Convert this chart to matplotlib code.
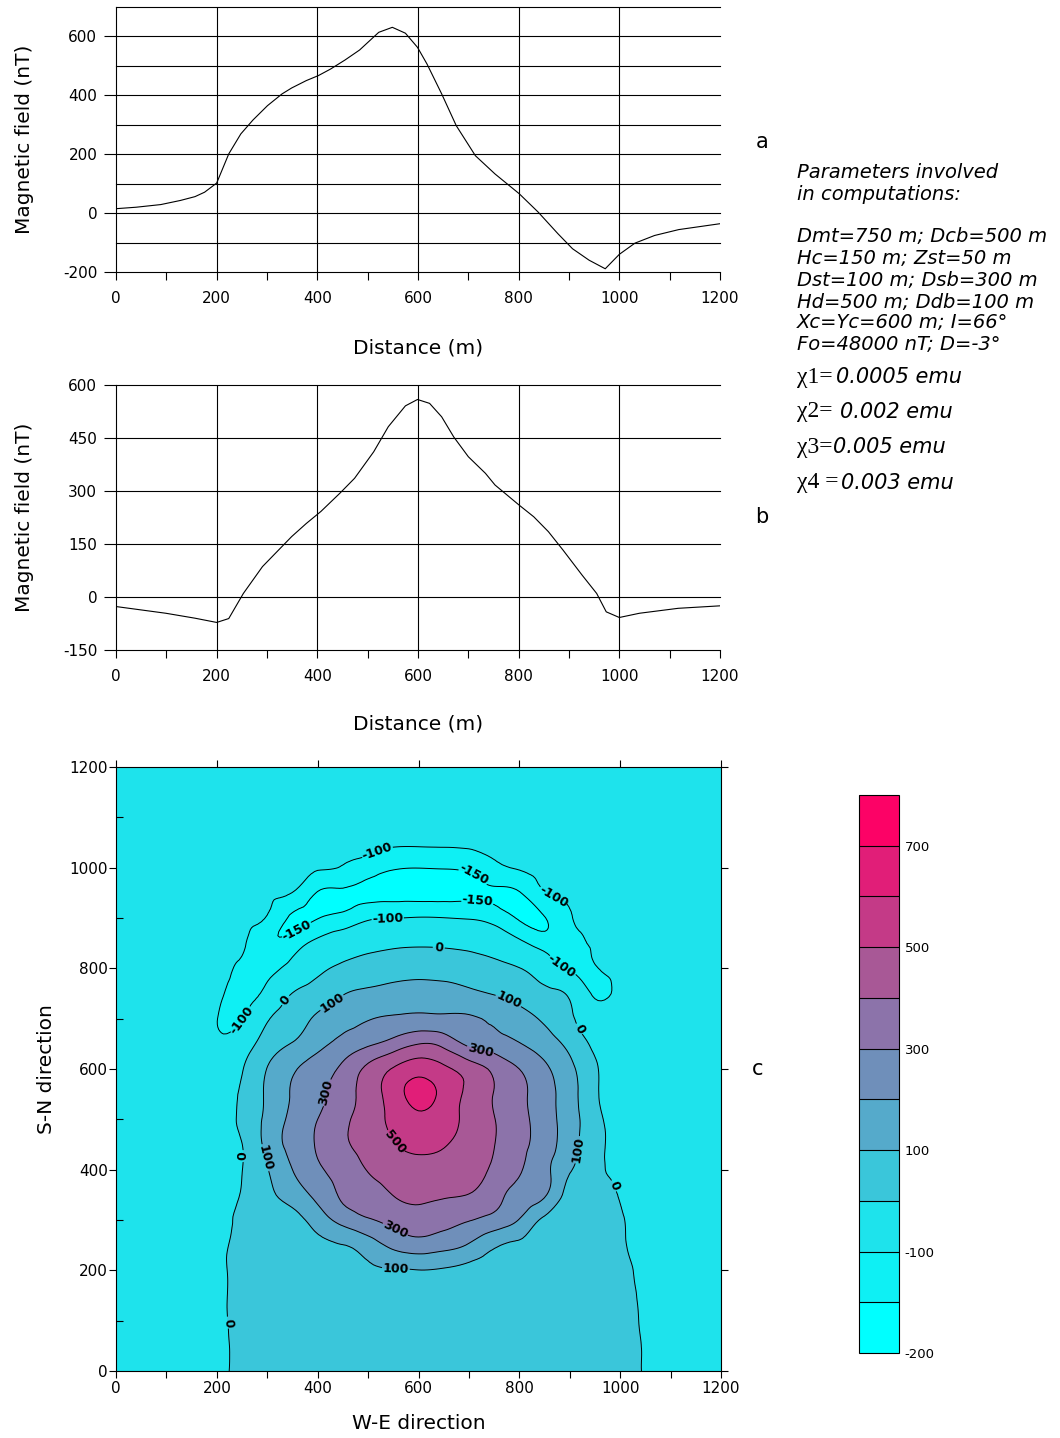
import matplotlib
matplotlib.use("Agg")
import matplotlib.pyplot as plt
import matplotlib.tri as mtri
import numpy as np
from matplotlib.ticker import MultipleLocator

plt.rcParams["font.family"] = ["DejaVu Sans"]
plt.rcParams["axes.unicode_minus"] = False
plt.rcParams["contour.negative_linestyle"] = "solid"

W, H = 1060, 1438

# profile a: field along the S-N line through x = 600 m
dist_a = [0, 40, 89, 128, 157, 176, 200, 224, 248, 272, 301, 330, 349, 378,
          402, 426, 455, 484, 522, 549, 575, 599, 618, 647, 676, 714, 753,
          801, 839, 878, 907, 940, 972, 1000, 1031, 1070, 1118, 1200]
field_a = [15, 20, 29, 43, 56, 71, 102, 201, 269, 316, 365, 405, 425, 450,
           467, 489, 520, 554, 614, 631, 611, 563, 506, 405, 297, 195, 133,
           66, 3, -70, -121, -160, -189, -140, -102, -76, -56, -36]

# profile b: field along the W-E line
dist_b = [0, 99, 157, 200, 224, 253, 291, 349, 378, 407, 445, 474, 512, 541,
          575, 599, 623, 647, 671, 700, 734, 753, 801, 830, 859, 888, 926,
          955, 974, 1000, 1040, 1117, 1200]
field_b = [-27, -46, -60, -72, -61, 10, 86, 171, 208, 242, 294, 336, 411, 482,
           541, 559, 548, 510, 453, 397, 350, 317, 260, 227, 185, 133, 62,
           10, -42, -58, -46, -32, -25]

# map grid (50 m step), rows go from y = 0 (south) to y = 1200 (north)
grid_x = list(range(0, 1201, 50))
grid_y = list(range(0, 1201, 50))
field_map = [
    [-35, -30, -24, -16, -5, 4, 9, 12, 14, 15, 15, 15, 15, 15, 15, 14, 13, 11, 8, 5, 3, -1, -10, -18, -25],
    [-36, -31, -25, -17, -6, 5, 11, 15, 17, 19, 20, 20, 20, 20, 19, 18, 16, 13, 10, 6, 3, -1, -10, -18, -26],
    [-37, -32, -26, -18, -6, 7, 15, 21, 25, 29, 31, 33, 33, 33, 31, 28, 24, 19, 14, 8, 4, -2, -11, -19, -27],
    [-38, -33, -27, -19, -7, 10, 22, 31, 38, 44, 49, 52, 53, 52, 49, 44, 37, 29, 20, 11, 5, -3, -12, -20, -28],
    [-40, -35, -29, -21, -8, 12, 30, 47, 60, 72, 85, 93, 98, 90, 70, 62, 54, 46, 34, 20, 6, -5, -14, -22, -29],
    [-42, -37, -31, -22, -8, 10, 32, 54, 76, 98, 150, 225, 258, 235, 190, 115, 80, 62, 45, 26, 4, -7, -16, -24, -31],
    [-44, -39, -32, -23, -11, 8, 33, 64, 145, 235, 290, 330, 355, 335, 305, 265, 195, 80, 60, 32, 3, -9, -18, -26, -33],
    [-45, -40, -34, -25, -14, 4, 72, 145, 230, 315, 360, 402, 425, 410, 398, 340, 270, 212, 60, 33, -4, -13, -21, -28, -35],
    [-46, -41, -35, -27, -16, -1, 95, 200, 285, 340, 405, 445, 467, 455, 430, 385, 310, 225, 110, 25, -20, -22, -26, -30, -36],
    [-47, -42, -36, -28, -17, -1, 130, 229, 311, 382, 440, 494, 525, 508, 457, 402, 330, 247, 142, 33, -25, -24, -28, -32, -37],
    [-48, -43, -37, -29, -18, 15, 127, 222, 300, 377, 450, 525, 580, 545, 472, 403, 331, 248, 145, 33, -40, -32, -31, -33, -38],
    [-48, -44, -38, -30, -19, 10, 118, 207, 273, 357, 442, 552, 630, 572, 474, 397, 325, 240, 142, 16, -45, -35, -31, -34, -38],
    [-47, -47, -50, -55, -60, -5, 103, 187, 251, 322, 425, 508, 563, 520, 456, 377, 300, 219, 125, 14, -55, -45, -38, -33, -30],
    [-50, -55, -62, -75, -92, -50, 45, 105, 170, 235, 285, 340, 398, 370, 280, 250, 205, 150, 70, -20, -65, -55, -45, -38, -34],
    [-52, -58, -66, -78, -99, -103, -10, 55, 115, 160, 195, 212, 225, 220, 210, 180, 135, 85, 15, -50, -75, -62, -50, -42, -37],
    [-54, -60, -70, -82, -92, -118, -80, 2, 45, 95, 118, 132, 140, 135, 120, 95, 65, 25, -15, -110, -78, -68, -55, -46, -40],
    [-56, -62, -72, -85, -86, -110, -118, -75, -20, 18, 45, 60, 66, 62, 48, 25, 2, -50, -108, -104, -80, -72, -58, -48, -42],
    [-58, -64, -74, -84, -88, -92, -142, -128, -85, -55, -32, -18, -12, -15, -25, -45, -85, -125, -120, -92, -80, -68, -58, -50, -45],
    [-60, -66, -74, -80, -86, -88, -104, -158, -152, -135, -108, -101, -97, -99, -104, -120, -155, -152, -104, -88, -78, -68, -60, -52, -47],
    [-62, -66, -72, -78, -84, -88, -93, -101, -153, -158, -162, -165, -167, -166, -162, -157, -153, -103, -90, -80, -72, -65, -58, -52, -48],
    [-60, -64, -70, -76, -81, -85, -88, -90, -95, -104, -125, -145, -149, -147, -140, -112, -96, -85, -77, -70, -64, -59, -54, -50, -46],
    [-58, -63, -69, -74, -78, -81, -84, -86, -88, -88, -85, -92, -92, -91, -89, -86, -82, -77, -72, -67, -62, -57, -52, -48, -45],
    [-55, -59, -63, -67, -70, -72, -73, -73, -72, -70, -68, -66, -63, -62, -62, -62, -61, -60, -58, -55, -52, -49, -46, -43, -40],
    [-52, -55, -58, -60, -61, -61, -60, -58, -55, -52, -49, -47, -45, -45, -46, -47, -47, -47, -46, -45, -43, -41, -39, -37, -35],
    [-49, -51, -53, -54, -54, -53, -51, -48, -45, -42, -40, -38, -36, -36, -37, -38, -38, -38, -37, -36, -35, -34, -33, -31, -30],
]

levels = [-200, -150, -100, 0, 100, 200, 300, 400, 500, 600, 700, 800]
band_colors = ["#00FFFF", "#0EF0F4", "#1EE3EC", "#3AC6DA", "#55AACB", "#6F8FBA",
               "#8C73AA", "#A85896", "#C43A87", "#E11E78", "#FC0266"]
cbar_ticks = [-200, -100, 100, 300, 500, 700]
plain_levels = [200, 400, 600]

# where each contour carries its label (x, y in metres)
label_spots = {
    -150: [(705, 978), (717, 925), (360, 873)],
    -100: [(519, 1030), (865, 937), (539, 896), (883, 802), (244, 700)],
    0: [(640, 839), (337, 736), (921, 681), (252, 427), (984, 366), (220, 96)],
    100: [(428, 732), (778, 735), (297, 424), (919, 439), (555, 204)],
    300: [(721, 627), (418, 553), (551, 275)],
    500: [(553, 455)],
}

params = ["Parameters involved", "in computations:", "",
          "Dmt=750 m; Dcb=500 m", "Hc=150 m; Zst=50 m",
          "Dst=100 m; Dsb=300 m", "Hd=500 m; Ddb=100 m",
          "Xc=Yc=600 m; I=66°", "Fo=48000 nT; D=-3°"]
param_y = [172, 195, 216, 237, 258, 281, 302, 322, 344]
chi_names = ["χ1=", "χ2=", "χ3=", "χ4 ="]
chi_values = ["0.0005 emu", "0.002 emu", "0.005 emu", "0.003 emu"]
chi_y = [377, 412, 447, 483]
chi_value_x = [836, 840, 833, 841]


def px_axes(fig, left, top, right, bottom):
    return fig.add_axes([left / W, 1 - bottom / H,
                         (right - left) / W, (bottom - top) / H])


def profile_panel(ax, x, y, ylim, yticks, hlines, xlabel_y):
    ax.plot(x, y, color="black", lw=0.8, zorder=3)
    ax.set_xlim(0, 1200)
    ax.set_ylim(*ylim)
    for v in hlines:
        ax.axhline(v, color="black", lw=0.8, zorder=1, clip_on=False)
    for v in (200, 400, 600, 800, 1000):
        ax.axvline(v, color="black", lw=0.8, zorder=1)
    ax.spines["top"].set_visible(False)
    ax.spines["right"].set_visible(False)
    for s in ("left", "bottom"):
        ax.spines[s].set_linewidth(0.8)
    ax.set_xticks(range(0, 1201, 200))
    ax.xaxis.set_minor_locator(MultipleLocator(100))
    ax.set_yticks(yticks)
    ax.tick_params(axis="x", which="both", direction="out", length=6,
                   width=0.8, pad=8, labelsize=11)
    ax.tick_params(axis="y", which="major", direction="out", length=8.5,
                   width=0.8, pad=5, labelsize=11)
    ax.set_xlabel("Distance (m)", fontsize=14.5)
    ax.set_ylabel("Magnetic field (nT)", fontsize=14.5)
    ax.xaxis.set_label_coords(0.5, xlabel_y)
    ax.yaxis.set_label_coords(-0.136, 0.5)


fig = plt.figure(figsize=(W / 100, H / 100), dpi=100)

ax_a = px_axes(fig, 116, 7, 720, 272)
profile_panel(ax_a, dist_a, field_a, (-200, 700), [-200, 0, 200, 400, 600],
              [-100, 0, 100, 200, 300, 400, 500, 600, 700], -0.25)

ax_b = px_axes(fig, 116, 385, 720, 650)
profile_panel(ax_b, dist_b, field_b, (-150, 600),
              [-150, 0, 150, 300, 450, 600], [0, 150, 300, 450, 600], -0.245)

# contour map: matplotlib's own smooth refinement of the read-off grid
gx, gy = np.meshgrid(grid_x, grid_y)
tri = mtri.Triangulation(gx.ravel(), gy.ravel())
z = np.asarray(field_map, dtype=float).ravel()
interp = mtri.CubicTriInterpolator(tri, z, kind="min_E")
tri_f, z_f = mtri.UniformTriRefiner(tri).refine_field(
    z, triinterpolator=interp, subdiv=3)

ax_c = px_axes(fig, 116, 767, 721, 1371)
cf = ax_c.tricontourf(tri_f, z_f, levels=levels, colors=band_colors)
ax_c.tricontour(tri_f, z_f, levels=plain_levels, colors="black",
                linewidths=0.7)
for lev, spots in label_spots.items():
    cs = ax_c.tricontour(tri_f, z_f, levels=[lev], colors="black",
                         linewidths=0.7)
    texts = ax_c.clabel(cs, manual=spots, fmt="%d", fontsize=9,
                        inline=True, inline_spacing=2)
    for t in texts:
        t.set_fontweight("bold")
ax_c.set_xlim(0, 1200)
ax_c.set_ylim(0, 1200)
ax_c.set_xticks(range(0, 1201, 200))
ax_c.set_yticks(range(0, 1201, 200))
ax_c.xaxis.set_minor_locator(MultipleLocator(100))
ax_c.yaxis.set_minor_locator(MultipleLocator(100))
ax_c.tick_params(which="major", top=True, right=True, direction="out",
                 length=5, width=0.8, labelsize=11)
ax_c.tick_params(axis="x", which="major", pad=2)
ax_c.tick_params(axis="y", which="major", pad=1)
ax_c.tick_params(axis="x", which="minor", bottom=True, top=False,
                 direction="out", length=5, width=0.8)
ax_c.tick_params(axis="y", which="minor", left=True, right=False,
                 direction="in", length=5, width=0.8)
for s in ax_c.spines.values():
    s.set_linewidth(0.8)
ax_c.set_xlabel("W-E direction", fontsize=14.5)
ax_c.set_ylabel("S-N direction", fontsize=14.5)
ax_c.xaxis.set_label_coords(0.5, -0.072)
ax_c.yaxis.set_label_coords(-0.1, 0.5)

cax = px_axes(fig, 859, 795, 899, 1353)
cb = fig.colorbar(cf, cax=cax, spacing="uniform", ticks=cbar_ticks,
                  drawedges=True)
cb.outline.set_linewidth(0.8)
cb.dividers.set_color("black")
cb.dividers.set_linewidth(0.8)
cax.tick_params(length=0, pad=4, labelsize=9.5)

# panel letters and the parameter notes
for letter, (lx, ly) in zip("abc", [(762, 142), (762, 517), (758, 1069)]):
    fig.text(lx / W, 1 - ly / H, letter, fontsize=15, ha="center", va="center")

for line, ly in zip(params, param_y):
    if line:
        fig.text(797 / W, 1 - ly / H, line, fontsize=14, style="italic",
                 va="center")
for name, val, ly, vx in zip(chi_names, chi_values, chi_y, chi_value_x):
    fig.text(797 / W, 1 - ly / H, name, fontsize=17,
             family="Liberation Serif", va="center")
    fig.text(vx / W, 1 - ly / H, val, fontsize=15, style="italic",
             va="center")

fig.savefig("out.png", dpi=100)
